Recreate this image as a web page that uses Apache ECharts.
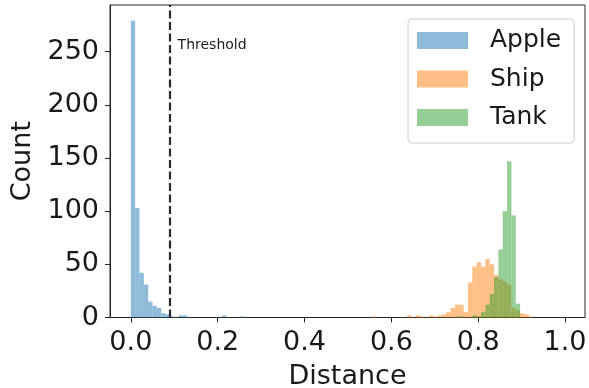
<!DOCTYPE html>
<html>
<head>
<meta charset="utf-8">
<script src="https://cdn.jsdelivr.net/npm/echarts@6/dist/echarts.min.js"></script>
<style>
html,body{margin:0;padding:0;background:#fff;}
#chart{width:589px;height:388px;}
</style>
</head>
<body>
<div id="chart"></div>
<script>
// ---- data (histogram bins: start of first bin, bin width, counts) ----
const seriesNames = ['Apple', 'Ship', 'Tank'];
const binWidth = 0.01;
const appleStart = 0.0;
const appleCounts = [279, 103, 42, 31, 15, 11, 9, 4, 3, 1, 0, 2, 2, 0, 0, 0, 0, 0, 0, 0, 0, 2, 0, 0, 0, 1];
const shipStart = 0.5565;
const shipCounts = [1, 0, 0, 0, 0, 0, 0, 0, 2, 0, 2, 1, 0, 2, 1, 2, 3, 5, 9, 12, 12, 5, 33, 48, 52, 48, 55, 50, 40, 36, 34, 31, 9, 7, 4, 3, 1];
const tankStart = 0.7465;
const tankCounts = [1, 1, 0, 0, 2, 1, 5, 12, 22, 38, 64, 100, 147, 96, 13];
const threshold = 0.087;
const xTicks = [0.0, 0.2, 0.4, 0.6, 0.8, 1.0];
const yTicks = [0, 50, 100, 150, 200, 250];

const colors = ['rgba(31,119,180,0.5)', 'rgba(255,127,14,0.5)', 'rgba(44,160,44,0.5)'];
const textColor = '#1a1a1a';
const font = 'DejaVu Sans';

function bins(start, counts) {
  return counts.map((c, i) => [start + i * binWidth, start + (i + 1) * binWidth, c]);
}

function renderBar(params, api) {
  const x0 = api.value(0), x1 = api.value(1), c = api.value(2);
  if (!c) return null;
  const p0 = api.coord([x0, c]);
  const p1 = api.coord([x1, 0]);
  return {
    type: 'rect',
    shape: { x: p0[0], y: p0[1], width: p1[0] - p0[0], height: p1[1] - p0[1] },
    style: { fill: colors[params.seriesIndex] }
  };
}

const chart = echarts.init(document.getElementById('chart'), null, { renderer: 'canvas' });

const allBins = [bins(appleStart, appleCounts), bins(shipStart, shipCounts), bins(tankStart, tankCounts)];

const option = {
  animation: false,
  backgroundColor: '#fff',
  textStyle: { fontFamily: font },
  grid: {
    left: 110, right: 4, top: 5, bottom: 70.5,
    outerBoundsMode: 'none',
    containLabel: false,
    show: true, borderColor: '#262626', borderWidth: 1, backgroundColor: 'transparent'
  },
  xAxis: {
    type: 'value',
    min: -0.048, max: 1.046,
    name: 'Distance', nameLocation: 'middle', nameGap: 46,
    nameTextStyle: { fontSize: 27, color: textColor, fontFamily: font },
    axisLine: { show: true, onZero: false, lineStyle: { color: '#262626', width: 1 } },
    axisTick: { show: true, customValues: xTicks, length: 5, lineStyle: { color: '#262626', width: 1 } },
    axisLabel: { customValues: xTicks, formatter: v => v.toFixed(1), fontSize: 27, color: textColor, fontFamily: font, margin: 12 },
    splitLine: { show: false }
  },
  yAxis: {
    type: 'value',
    min: 0, max: 293.9,
    name: 'Count', nameLocation: 'middle', nameGap: 72,
    nameTextStyle: { fontSize: 27, color: textColor, fontFamily: font },
    axisLine: { show: true, onZero: false, lineStyle: { color: '#262626', width: 1 } },
    axisTick: { show: true, customValues: yTicks, length: 5, lineStyle: { color: '#262626', width: 1 } },
    axisLabel: { customValues: yTicks, fontSize: 27, color: textColor, fontFamily: font, margin: 11 },
    splitLine: { show: false }
  },
  legend: {
    orient: 'vertical',
    left: 408, top: 19,
    padding: [8.5, 13, 12.5, 9],
    itemWidth: 51, itemHeight: 17, itemGap: 12.5,
    backgroundColor: '#fff', borderColor: '#cccccc', borderWidth: 1, borderRadius: 4,
    textStyle: { fontSize: 25, color: textColor, fontFamily: font, lineHeight: 26, padding: [0, 0, 0, 17] },
    data: seriesNames.map((n, i) => ({ name: n, icon: 'rect', itemStyle: { color: colors[i] } }))
  },
  series: seriesNames.map((n, i) => ({
    name: n,
    type: 'custom',
    renderItem: renderBar,
    encode: { x: [0, 1], y: 2 },
    itemStyle: { color: colors[i] },
    data: allBins[i],
    z: 2 + i,
    markLine: i === 0 ? {
      silent: true, symbol: 'none',
      label: { show: false },
      lineStyle: { type: [8, 3.5], width: 2.2, color: '#2b2b2b' },
      data: [{ xAxis: threshold }]
    } : undefined
  }))
};

chart.setOption(option);

const tp = chart.convertToPixel({ xAxisIndex: 0, yAxisIndex: 0 }, [threshold, 0]);
chart.setOption({
  graphic: [{
    type: 'text',
    left: tp[0] + 9, top: 38,
    style: { text: 'Threshold', fontSize: 14, fill: textColor, fontFamily: font }
  }]
});
</script>
</body>
</html>
